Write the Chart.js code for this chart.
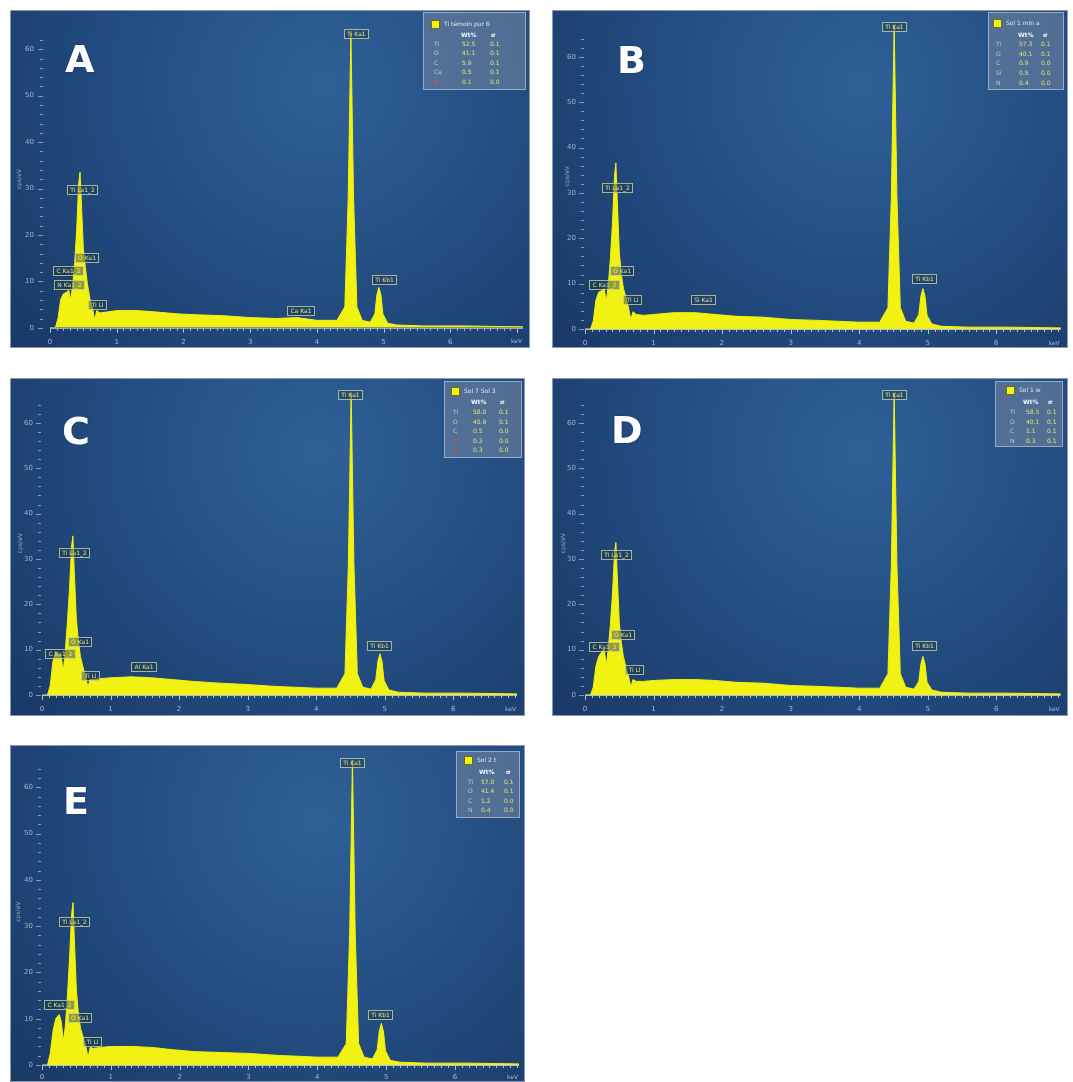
<!DOCTYPE html>
<html><head><meta charset="utf-8">
<script src="https://cdn.jsdelivr.net/npm/chart.js@4.4.1/dist/chart.umd.min.js"></script>
<style>
html,body{margin:0;padding:0;background:#fff;}
body{width:1073px;height:1082px;overflow:hidden;position:relative;font-family:"DejaVu Sans",sans-serif;}
.panel{position:absolute;overflow:hidden;box-sizing:border-box;}
.panel canvas{position:absolute;left:0;top:0;}
.frame{position:absolute;border:1px solid rgba(150,163,182,0.9);box-sizing:border-box;pointer-events:none;}
.letter{position:absolute;color:#fff;font:bold 38px/38px "DejaVu Sans",sans-serif;text-shadow:0 0 2px rgba(0,0,0,0.35);}
.legend{position:absolute;background:rgba(112,132,162,0.6);border:1px solid rgba(165,180,202,0.85);box-sizing:border-box;color:#dfe6f0;font:6px/8px "DejaVu Sans",sans-serif;}
.legend span{position:absolute;white-space:nowrap;}
.legend .sq{width:9px;height:9px;background:#f2f215;border:1px solid #6d6d20;box-sizing:border-box;}
.legend .hd{color:#f2f4f8;font-weight:bold;}
.legend .el{color:#b9c6d8;}
.legend .el.red{color:#e8484a;}
.legend .val{color:#d9e86a;}
</style>
</head><body>
<script>
// ---------- DATA ----------
const energy_keV = [0.00,0.08,0.12,0.16,0.20,0.25,0.28,0.31,0.34,0.37,0.40,0.43,0.45,0.47,0.50,0.53,0.56,0.60,0.64,0.67,0.70,0.75,0.85,1.0,1.3,1.6,1.9,2.2,2.6,3.0,3.4,3.7,4.0,4.3,4.42,4.47,4.51,4.55,4.60,4.68,4.80,4.87,4.90,4.93,4.96,4.99,5.06,5.2,5.6,6.2,7.1];

const countsA = [0,0,2.0,6.1,7.3,7.7,8.1,6.1,9.1,14.0,21.0,31.0,33.5,27.0,17.0,13.0,9.5,6.1,4.1,1.6,3.7,3.2,3.4,3.7,3.7,3.4,3.0,2.8,2.6,2.2,2.0,2.2,1.6,1.6,4.5,28.0,63.5,28.0,4.5,1.6,1.2,3.0,7.1,8.7,7.1,3.0,1.0,0.6,0.4,0.4,0.2];
const countsB = [0,0,1.7,6.4,8.1,8.5,8.9,6.0,9.6,15.5,23.0,33.5,36.6,28.5,17.0,12.0,9.0,6.8,4.3,2.1,3.8,3.2,3.0,3.2,3.6,3.6,3.2,2.8,2.6,2.1,1.9,1.7,1.5,1.5,4.7,29.5,67.0,29.5,4.7,1.7,1.3,3.2,7.2,8.9,7.2,3.0,1.1,0.6,0.4,0.4,0.2];
const countsC = [0,0,2.1,7.4,9.6,8.9,8.5,5.3,9.6,16.0,23.0,32.5,35.1,27.5,17.0,12.0,8.5,6.0,3.8,1.7,3.4,3.4,3.6,3.8,4.0,3.8,3.4,3.0,2.6,2.3,1.9,1.7,1.5,1.5,4.7,29.0,66.6,29.0,4.7,1.7,1.3,3.4,7.4,9.1,7.4,3.2,1.1,0.6,0.4,0.4,0.2];
const countsD = [0,0,1.7,6.4,8.5,9.6,10.2,6.4,10.2,15.5,22.0,31.0,33.6,26.5,16.0,11.5,8.5,6.0,3.8,1.7,3.4,3.0,3.0,3.2,3.4,3.4,3.2,2.8,2.6,2.1,1.9,1.7,1.5,1.5,4.7,29.0,66.6,29.0,4.7,1.7,1.3,3.0,6.8,8.5,6.8,2.8,1.1,0.6,0.4,0.4,0.2];
const countsE = [0,0,2.5,7.3,10.0,10.9,9.4,5.2,8.4,15.0,23.0,32.5,35.1,27.0,16.0,11.0,7.9,5.9,3.8,1.7,3.8,3.6,3.8,4.0,4.0,3.8,3.3,2.9,2.7,2.5,2.1,1.9,1.7,1.7,4.6,28.5,65.9,28.5,4.6,1.7,1.3,3.3,7.3,9.0,7.3,3.1,1.0,0.6,0.4,0.4,0.2];

const xTickLabels = ['0','1','2','3','4','5','6'];
const xUnitLabel = 'keV';
const yTitle = 'cps/eV';

// peak annotations: text, energy (keV), level (cps/eV) of box bottom
const peakTextA = ['Ti Ka1','Ti Kb1','Ti La1_2','O Ka1','C Ka1_2','N Ka1_2','Ti Ll','Ca Ka1'];
const peakEnergyA = [4.58,5.00,0.48,0.54,0.27,0.28,0.70,3.75];
const peakLevelA = [62.5,9.5,28.8,14.2,11.4,8.3,4.1,2.8];

const peakTextB = ['Ti Ka1','Ti Kb1','Ti La1_2','O Ka1','C Ka1_2','Ti Ll','Si Ka1'];
const peakEnergyB = [4.51,4.95,0.47,0.53,0.27,0.69,1.72];
const peakLevelB = [65.7,10.2,30.2,11.9,8.9,5.5,5.5];

const peakTextC = ['Ti Ka1','Ti Kb1','Ti La1_2','O Ka1','C Ka1_2','Ti Ll','Al Ka1'];
const peakEnergyC = [4.50,4.91,0.47,0.54,0.26,0.70,1.48];
const peakLevelC = [65.3,10.0,30.4,10.9,8.1,3.4,5.3];

const peakTextD = ['Ti Ka1','Ti Kb1','Ti La1_2','O Ka1','C Ka1_2','Ti Ll'];
const peakEnergyD = [4.51,4.94,0.45,0.54,0.28,0.71];
const peakLevelD = [65.3,10.0,30.0,12.3,9.6,4.7];

const peakTextE = ['Ti Ka1','Ti Kb1','Ti La1_2','C Ka1_2','O Ka1','Ti Ll'];
const peakEnergyE = [4.51,4.91,0.47,0.25,0.54,0.73];
const peakLevelE = [64.4,10.0,30.1,12.1,9.2,4.0];

// legend tables
const legendTitleA = 'Ti témoin pur 6';
const legendElA = ['Ti','O','C','Ca','N'];
const legendWtA = ['52.5','41.1','5.9','0.5','0.1'];
const legendSigA = ['0.1','0.1','0.1','0.1','0.0'];
const legendRedA = [false,false,false,false,true];

const legendTitleB = 'Sol 1 min a';
const legendElB = ['Ti','O','C','Si','N'];
const legendWtB = ['57.3','40.1','0.9','0.5','0.4'];
const legendSigB = ['0.1','0.1','0.0','0.0','0.0'];
const legendRedB = [false,false,false,false,false];

const legendTitleC = 'Sol 7 Sol 3';
const legendElC = ['Ti','O','C','Al','N'];
const legendWtC = ['58.0','40.9','0.5','0.3','0.3'];
const legendSigC = ['0.1','0.1','0.0','0.0','0.0'];
const legendRedC = [false,false,false,true,true];

const legendTitleD = 'Sol 1 w';
const legendElD = ['Ti','O','C','N'];
const legendWtD = ['58.5','40.1','1.1','0.3'];
const legendSigD = ['0.1','0.1','0.1','0.1'];
const legendRedD = [false,false,false,false];

const legendTitleE = 'Sol 2 t';
const legendElE = ['Ti','O','C','N'];
const legendWtE = ['57.0','41.4','1.2','0.4'];
const legendSigE = ['0.1','0.1','0.0','0.0'];
const legendRedE = [false,false,false,false];

const panelLetters = ['A','B','C','D','E'];

// ---------- LAYOUT ----------
const panels = [
 {counts:countsA, box:[10,10,520,338], x0:40, xAxisH:20, padTop:2, padRight:7, xmax:7.09, ymax:64.1, xLabPad:10, yLabPad:16, dash:7, titleX:9,
  peaks:[peakTextA,peakEnergyA,peakLevelA], letter:[65,40],
  leg:{title:legendTitleA, el:legendElA, wt:legendWtA, sig:legendSigA, red:legendRedA, box:[423,12,103,78], sq:[7,7], t:[20,11], hy:22, hw:37, hs:67, ry:31, dy:9.4, ce:10, cv:38, cs:66}},
 {counts:countsB, box:[552,10,516,338], x0:33, xAxisH:19, padTop:2, padRight:6, xmax:6.94, ymax:67.4, xLabPad:10, yLabPad:9, dash:1, titleX:15,
  peaks:[peakTextB,peakEnergyB,peakLevelB], letter:[617,41],
  leg:{title:legendTitleB, el:legendElB, wt:legendWtB, sig:legendSigB, red:legendRedB, box:[988,12,76,78], sq:[4,6], t:[17,10], hy:22, hw:29, hs:54, ry:31, dy:9.7, ce:7, cv:30, cs:52}},
 {counts:countsC, box:[10,378,515,338], x0:32, xAxisH:21, padTop:2, padRight:6, xmax:6.93, ymax:67, xLabPad:10, yLabPad:9, dash:1, titleX:10,
  peaks:[peakTextC,peakEnergyC,peakLevelC], letter:[62,412],
  leg:{title:legendTitleC, el:legendElC, wt:legendWtC, sig:legendSigC, red:legendRedC, box:[444,381,78,77], sq:[6,5], t:[19,9], hy:20, hw:26, hs:55, ry:30, dy:9.5, ce:8, cv:28, cs:54}},
 {counts:countsD, box:[552,378,516,338], x0:33, xAxisH:21, padTop:2, padRight:6, xmax:6.94, ymax:67, xLabPad:10, yLabPad:9, dash:1, titleX:11,
  peaks:[peakTextD,peakEnergyD,peakLevelD], letter:[611,411],
  leg:{title:legendTitleD, el:legendElD, wt:legendWtD, sig:legendSigD, red:legendRedD, box:[995,381,68,66], sq:[10,4], t:[23,8], hy:20, hw:27, hs:52, ry:30, dy:9.7, ce:14, cv:30, cs:51}},
 {counts:countsE, box:[10,745,515,337], x0:32, xAxisH:17, padTop:3, padRight:6, xmax:6.93, ymax:66.3, xLabPad:8, yLabPad:9, dash:1, titleX:8,
  peaks:[peakTextE,peakEnergyE,peakLevelE], letter:[63,782],
  leg:{title:legendTitleE, el:legendElE, wt:legendWtE, sig:legendSigE, red:legendRedE, box:[456,751,64,67], sq:[7,4], t:[20,8], hy:20, hw:22, hs:49, ry:30, dy:9.3, ce:11, cv:24, cs:47}}
];

// ---------- PLUGINS ----------
const isInt = v => Math.abs(v - Math.round(v)) < 1e-6;

const bgPlugin = {
  id:'edsBg',
  beforeDraw(chart){
    const {ctx,width,height} = chart;
    const cx = width*0.6, cy = height*0.22;
    const g = ctx.createRadialGradient(cx,cy,5,cx,cy,width*0.8);
    g.addColorStop(0,'#2e6096');
    g.addColorStop(0.55,'#224a7e');
    g.addColorStop(1,'#193864');
    ctx.save(); ctx.fillStyle = g; ctx.fillRect(0,0,width,height); ctx.restore();
  }
};

const axesPlugin = {
  id:'edsAxes',
  afterDraw(chart, args, opts){
    const {ctx, chartArea:a, scales:{x,y}} = chart;
    ctx.save();
    ctx.strokeStyle = 'rgba(215,224,236,0.8)';
    ctx.lineWidth = 1;
    // x axis line + ticks
    ctx.beginPath(); ctx.moveTo(a.left, a.bottom+0.5); ctx.lineTo(a.right, a.bottom+0.5); ctx.stroke();
    x.ticks.forEach(t => {
      const px = Math.round(x.getPixelForValue(t.value)) + 0.5;
      const major = isInt(t.value);
      ctx.beginPath(); ctx.moveTo(px, a.bottom+1); ctx.lineTo(px, a.bottom + (major?5:3)); ctx.stroke();
    });
    // y dashes
    ctx.strokeStyle = 'rgba(200,212,228,0.6)';
    y.ticks.forEach(t => {
      if (!isInt(t.value/2)) return;
      const py = Math.round(y.getPixelForValue(t.value)) + 0.5;
      const major = isInt(t.value/10);
      const xr = a.left - opts.dash;
      ctx.beginPath(); ctx.moveTo(xr - (major?5:3), py); ctx.lineTo(xr, py); ctx.stroke();
    });
    // unit label
    ctx.fillStyle = '#a9b7cb';
    ctx.font = '6px "DejaVu Sans"';
    ctx.textAlign = 'right'; ctx.textBaseline = 'middle';
    ctx.fillText(xUnitLabel, a.right - 1, a.bottom + opts.xLabPad + 4);
    // y title
    ctx.save();
    ctx.translate(opts.titleX, (a.top + a.bottom)/2);
    ctx.rotate(-Math.PI/2);
    ctx.textAlign = 'center';
    ctx.fillStyle = '#93a6c0';
    ctx.fillText(yTitle, 0, 0);
    ctx.restore();
    // peak labels
    const [txt, en, lv] = opts.peaks;
    ctx.font = '6px "DejaVu Sans"';
    ctx.textAlign = 'center'; ctx.textBaseline = 'middle';
    txt.forEach((s,i) => {
      const px = x.getPixelForValue(en[i]);
      const py = y.getPixelForValue(lv[i]);
      const w = Math.ceil(ctx.measureText(s).width) + 5, h = 9;
      const l = Math.round(px - w/2) + 0.5, tp = Math.round(py - h) + 0.5;
      ctx.fillStyle = 'rgba(28,55,95,0.45)';
      ctx.fillRect(l, tp, w, h);
      ctx.strokeStyle = 'rgba(205,210,150,0.8)';
      ctx.strokeRect(l, tp, w, h);
      ctx.fillStyle = '#e2e66c';
      ctx.fillText(s, l + w/2, tp + h/2 + 0.5);
    });
    ctx.restore();
  }
};

// ---------- BUILD ----------
panels.forEach((p, k) => {
  const [L,T,W,H] = p.box;
  const div = document.createElement('div');
  div.className = 'panel';
  div.style.cssText = `left:${L}px;top:${T}px;width:${W}px;height:${H}px;`;
  const cv = document.createElement('canvas');
  cv.width = W; cv.height = H;
  cv.style.width = W+'px'; cv.style.height = H+'px';
  div.appendChild(cv);
  document.body.appendChild(div);

  new Chart(cv, {
    type:'line',
    data:{datasets:[{
      data: energy_keV.map((e,i) => ({x:e, y:p.counts[i]})),
      borderColor:'#f2f212', backgroundColor:'#f2f212',
      borderWidth:1, pointRadius:0, tension:0, fill:'origin'
    }]},
    options:{
      responsive:false, animation:false, devicePixelRatio:1,
      events:[],
      layout:{padding:{top:p.padTop, right:p.padRight, left:0, bottom:0}},
      plugins:{legend:{display:false}, tooltip:{enabled:false},
        edsAxes:{dash:p.dash, xLabPad:p.xLabPad, titleX:p.titleX, peaks:p.peaks}},
      scales:{
        x:{type:'linear', min:0, max:p.xmax,
           grid:{display:false, drawTicks:false}, border:{display:false},
           ticks:{stepSize:0.1, autoSkip:false, maxRotation:0, minRotation:0, includeBounds:false,
                  padding:p.xLabPad, color:'#a9b7cb', font:{size:7, family:'DejaVu Sans'},
                  callback:v => (isInt(v) && Math.round(v) < xTickLabels.length) ? xTickLabels[Math.round(v)] : ''},
           afterFit:s => { s.height = p.xAxisH; }},
        y:{type:'linear', min:0, max:p.ymax,
           grid:{display:false, drawTicks:false}, border:{display:false},
           ticks:{stepSize:2, autoSkip:false, padding:p.yLabPad, color:'#a3b2c8', font:{size:7, family:'DejaVu Sans'},
                  callback:v => isInt(v/10) ? String(Math.round(v)) : ''},
           afterFit:s => { s.width = p.x0; }}
      }
    },
    plugins:[bgPlugin, axesPlugin]
  });

  const fr = document.createElement('div');
  fr.className = 'frame';
  fr.style.cssText = `left:${L}px;top:${T}px;width:${W}px;height:${H}px;`;
  document.body.appendChild(fr);

  const lt = document.createElement('div');
  lt.className = 'letter';
  lt.textContent = panelLetters[k];
  lt.style.left = p.letter[0]+'px'; lt.style.top = p.letter[1]+'px';
  document.body.appendChild(lt);

  const g = p.leg;
  const ld = document.createElement('div');
  ld.className = 'legend';
  ld.style.cssText = `left:${g.box[0]}px;top:${g.box[1]}px;width:${g.box[2]}px;height:${g.box[3]}px;`;
  const add = (cls, text, x, cy) => {
    const s = document.createElement('span');
    s.className = cls; if (text !== null) s.textContent = text;
    s.style.left = x+'px'; s.style.top = (cy-4)+'px';
    ld.appendChild(s);
  };
  const sq = document.createElement('span'); sq.className='sq';
  sq.style.left = g.sq[0]+'px'; sq.style.top = g.sq[1]+'px'; ld.appendChild(sq);
  add('', g.title, g.t[0], g.t[1]);
  add('hd', 'Wt%', g.hw, g.hy);
  add('hd', 'σ', g.hs, g.hy);
  g.el.forEach((e,i) => {
    const cy = g.ry + i*g.dy;
    add('el' + (g.red[i] ? ' red' : ''), e, g.ce, cy);
    add('val', g.wt[i], g.cv, cy);
    add('val', g.sig[i], g.cs, cy);
  });
  document.body.appendChild(ld);
});
</script>
</body></html>
